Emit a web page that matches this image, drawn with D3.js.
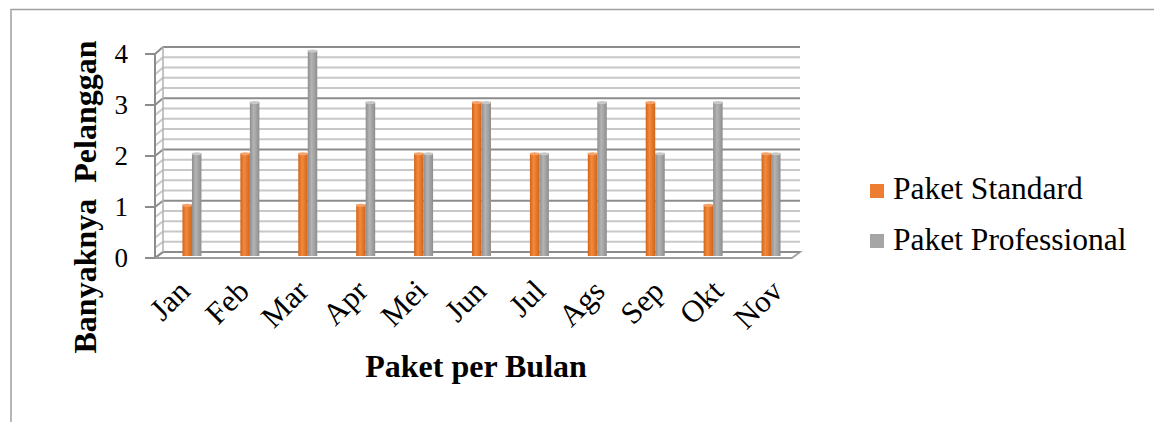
<!DOCTYPE html>
<html><head><meta charset="utf-8">
<script src="https://cdn.jsdelivr.net/npm/d3@7"></script>
<style>
html,body{margin:0;padding:0;background:#fff;}
svg{display:block;}
</style></head>
<body>
<svg id="chart" width="1154" height="422"></svg>
<script>
const months = ["Jan","Feb","Mar","Apr","Mei","Jun","Jul","Ags","Sep","Okt","Nov"];
const standard = [1,2,2,1,2,3,2,2,3,1,2];
const professional = [2,3,4,3,2,3,2,3,2,3,2];
const seriesNames = ["Paket Standard","Paket Professional"];
const yTicks = [0,1,2,3,4];

const FONT = "Liberation Serif";
const svg = d3.select("#chart");
const dx = 8;

svg.append("path").attr("d","M11,422 V9.5 H1154").attr("fill","none").attr("stroke","#a0a0a0").attr("stroke-width",1.5);

const x = d3.scaleBand().domain(months).range([163,800]);
const yFront = d3.scaleLinear().domain([0,4]).range([258,54]);
const yBack = d3.scaleLinear().domain([0,4]).range([252,47]);
const yBar = d3.scaleLinear().domain([0,4]).range([256,50.5]);

const minor = d3.range(0,4.0001,0.2).map(v=>Math.round(v*10)/10);
const isMajor = v => Math.abs(v-Math.round(v))<1e-6;

const x0 = 155, x1 = 792;
svg.append("path")
  .attr("d",`M${x0},${yFront(0)} L${x1},${yFront(0)} L${x1+dx},${yBack(0)} L${x0+dx},${yBack(0)} Z`)
  .attr("fill","#fff").attr("stroke","#a6a6a6").attr("stroke-width",2);

const g = svg.append("g");
g.selectAll("line.back").data(minor).join("line")
  .attr("x1",x0+dx).attr("x2",x1+dx)
  .attr("y1",d=>yBack(d)).attr("y2",d=>yBack(d))
  .attr("stroke",d=>isMajor(d)?"#8c8c8c":"#c8c8c8").attr("stroke-width",2);
g.selectAll("line.side").data(minor).join("line")
  .attr("x1",x0).attr("x2",x0+dx)
  .attr("y1",d=>yFront(d)).attr("y2",d=>yBack(d))
  .attr("stroke",d=>isMajor(d)?"#8c8c8c":"#c8c8c8").attr("stroke-width",2);
g.append("line").attr("x1",x0+dx).attr("x2",x0+dx).attr("y1",yBack(0)).attr("y2",yBack(4)).attr("stroke","#b0b0b0").attr("stroke-width",1.5);

svg.append("line").attr("x1",x0).attr("x2",x0).attr("y1",yFront(0)).attr("y2",yFront(4)).attr("stroke","#8c8c8c").attr("stroke-width",2);
svg.selectAll("line.tick").data(yTicks).join("line")
  .attr("x1",x0-10).attr("x2",x0).attr("y1",d=>yFront(d)).attr("y2",d=>yFront(d))
  .attr("stroke","#8c8c8c").attr("stroke-width",2);
svg.append("line").attr("x1",x0).attr("x2",x1).attr("y1",yFront(0)).attr("y2",yFront(0)).attr("stroke","#9a9a9a").attr("stroke-width",2);

const defs = svg.append("defs");
function grad(id, edge, mid){
  const lg = defs.append("linearGradient").attr("id",id).attr("x1","0").attr("x2","1").attr("y1","0").attr("y2","0");
  lg.append("stop").attr("offset","0%").attr("stop-color",edge);
  lg.append("stop").attr("offset","40%").attr("stop-color",mid);
  lg.append("stop").attr("offset","100%").attr("stop-color",edge);
}
grad("gOr","#d0641e","#f58a3a");
grad("gGr","#8e8e8e","#b4b4b4");

const bw = 9.5;
const bars = [
  {vals:standard, fill:"url(#gOr)", top:"#f5a36a", off:-bw},
  {vals:professional, fill:"url(#gGr)", top:"#c8c8c8", off:0}
];
bars.forEach(s=>{
  const data = months.map((m,i)=>({m, v:s.vals[i]}));
  svg.append("g").selectAll("rect").data(data).join("rect")
    .attr("x",d=>x(d.m)+x.bandwidth()/2+s.off)
    .attr("width",bw)
    .attr("y",d=>yBar(d.v))
    .attr("height",d=>yBar(0)-yBar(d.v))
    .attr("fill",s.fill);
  svg.append("g").selectAll("ellipse").data(data).join("ellipse")
    .attr("cx",d=>x(d.m)+x.bandwidth()/2+s.off+bw/2)
    .attr("cy",d=>yBar(d.v)+0.5)
    .attr("rx",bw/2).attr("ry",1.5)
    .attr("fill",s.top);
});

svg.selectAll("text.ytl").data(yTicks).join("text")
  .attr("class","ytl")
  .attr("x",128).attr("y",d=>yFront(d)+9)
  .attr("text-anchor","end")
  .attr("font-family",FONT).attr("fill","#000")
  .attr("font-size",27).text(d=>d);

const xl = d3.scaleBand().domain(months).range([160,812]);
svg.selectAll("text.xl").data(months).join("text")
  .attr("class","xl")
  .attr("text-anchor","end").attr("font-size",31)
  .attr("font-family",FONT).attr("fill","#000")
  .attr("transform",d=>`translate(${xl(d)+xl.bandwidth()/2+2},293) rotate(-45)`)
  .text(d=>d);

svg.append("text").attr("transform","translate(96,197) rotate(-90)")
  .attr("text-anchor","middle").attr("font-size",32).attr("font-weight","bold")
  .attr("font-family",FONT).attr("fill","#000")
  .style("white-space","pre")
  .text("Banyaknya  Pelanggan");
svg.append("text").attr("x",476).attr("y",377).attr("text-anchor","middle")
  .attr("font-family",FONT).attr("fill","#000")
  .attr("font-size",32).attr("font-weight","bold").text("Paket per Bulan");

const legColors = ["#ed7d31","#a5a5a5"];
const leg = svg.append("g");
seriesNames.forEach((n,i)=>{
  leg.append("rect").attr("x",870).attr("y",184+i*50).attr("width",14).attr("height",14).attr("fill",legColors[i]);
  leg.append("text").attr("x",893).attr("y",199+i*51).attr("font-size",31.5)
    .attr("font-family",FONT).attr("fill","#000").text(n);
});
</script>
</body></html>
